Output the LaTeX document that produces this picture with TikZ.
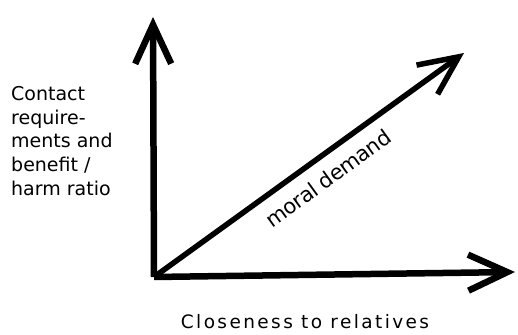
\documentclass[tikz,border=0pt]{standalone}
\usepackage{fontspec}
\setmainfont{DejaVu Sans}
\usetikzlibrary{arrows.meta}

\begin{document}
\begin{tikzpicture}
	[x=1pt, y=1pt,
	axis/.style={line width=6.5pt, -{Straight Barb[length=39pt,width=36pt]}},
	demand/.style={line width=5.5pt, -{Straight Barb[length=39pt,width=36pt]}},
	label/.style={inner sep=0pt, font=\fontsize{19}{23.75}\selectfont}]
	\useasboundingbox (0,0) rectangle (518,334);
	\coordinate (o) at (154,57);
	\coordinate (ytip) at (153,317);
	\coordinate (xtip) at (515,62);
	\coordinate (dtip) at (464,281);
	\draw [axis] (o) -- (ytip);
	\draw [axis] (o) -- (xtip);
	\draw [demand] (o) -- (dtip)
	node (md) [label, pos=0.52, below=11pt, sloped, font=\fontsize{21}{24}\selectfont\addfontfeature{LetterSpace=-2}] {moral demand};
	\node (ylab) [label, anchor=north west, align=left] at (11,248)
	{Contact\\require-\\ments and\\benefit /\\harm ratio};
	\node (xlab) [inner sep=0pt, anchor=base, font=\fontsize{18.5}{20}\selectfont\addfontfeature{LetterSpace=13}] at (305,6)
	{Closeness to relatives};
\end{tikzpicture}
\end{document}
